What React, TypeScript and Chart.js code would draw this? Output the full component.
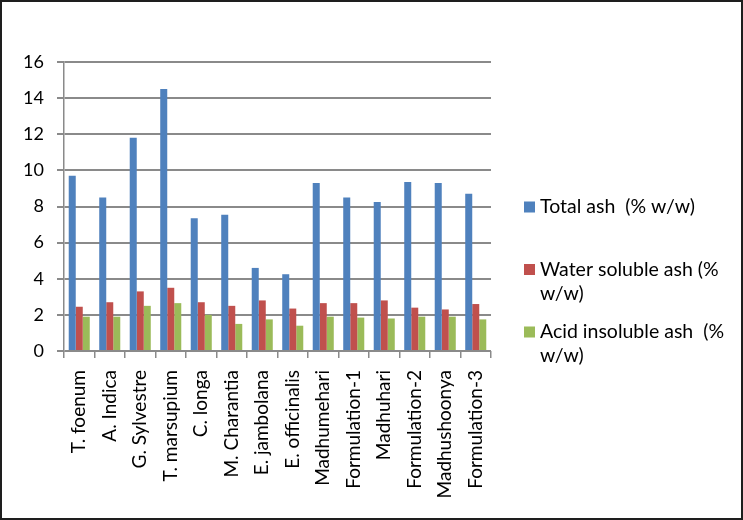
import React, { useEffect, useRef } from "react";
import { Chart, registerables } from "chart.js";

Chart.register(...registerables);

const categories = [
  "T. foenum",
  "A. Indica",
  "G. Sylvestre",
  "T. marsupium",
  "C. longa",
  "M. Charantia",
  "E. jambolana",
  "E. officinalis",
  "Madhumehari",
  "Formulation-1",
  "Madhuhari",
  "Formulation-2",
  "Madhushoonya",
  "Formulation-3",
];

const totalAsh = [9.7, 8.5, 11.8, 14.5, 7.35, 7.55, 4.6, 4.25, 9.3, 8.5, 8.25, 9.35, 9.3, 8.7];
const waterSolubleAsh = [2.45, 2.7, 3.3, 3.5, 2.7, 2.5, 2.8, 2.35, 2.65, 2.65, 2.8, 2.4, 2.3, 2.6];
const acidInsolubleAsh = [1.9, 1.9, 2.5, 2.65, 2.0, 1.5, 1.75, 1.4, 1.9, 1.85, 1.8, 1.9, 1.9, 1.75];

const legendLines = [
  ["Total ash  (% w/w)"],
  ["Water soluble ash (%", "w/w)"],
  ["Acid insoluble ash  (%", "w/w)"],
];

const seriesColors = ["#4F81BD", "#C0504D", "#9BBB59"];

const FONT = "Lato, 'Open Sans', sans-serif";

const framePlugin = {
  id: "framePlugin",
  beforeDraw(chart: any) {
    const ctx = chart.ctx;
    ctx.save();
    ctx.fillStyle = "#ffffff";
    ctx.fillRect(0, 0, chart.width, chart.height);
    ctx.restore();
  },
  afterDraw(chart: any) {
    const ctx = chart.ctx;
    ctx.save();
    ctx.strokeStyle = "#1e1e1e";
    ctx.lineWidth = 2;
    ctx.strokeRect(1, 1, chart.width - 2, chart.height - 2);

    // custom wrapped legend
    const x0 = 524;
    const y0 = 207;
    const step = 62.5;
    const box = 11;
    ctx.font = `19.5px ${FONT}`;
    ctx.textBaseline = "middle";
    ctx.textAlign = "left";
    chart.data.datasets.forEach((ds: any, i: number) => {
      const cy = y0 + i * step;
      ctx.fillStyle = ds.backgroundColor;
      ctx.fillRect(x0, cy - box / 2, box, box);
      ctx.fillStyle = "#000000";
      const lines = legendLines[i];
      lines.forEach((line: string, j: number) => {
        ctx.fillText(line, x0 + box + 5, cy + j * 24);
      });
    });
    ctx.restore();
  },
};

export default function App() {
  const ref = useRef<HTMLCanvasElement | null>(null);

  useEffect(() => {
    if (!ref.current) return;
    const chart = new Chart(ref.current, {
      type: "bar",
      data: {
        labels: categories,
        datasets: [
          { label: legendLines[0].join(" "), data: totalAsh, backgroundColor: seriesColors[0] },
          { label: legendLines[1].join(" "), data: waterSolubleAsh, backgroundColor: seriesColors[1] },
          { label: legendLines[2].join(" "), data: acidInsolubleAsh, backgroundColor: seriesColors[2] },
        ],
      },
      options: {
        responsive: false,
        animation: false,
        layout: { padding: { top: 62, right: 252, bottom: 0, left: 0 } },
        datasets: {
          bar: { categoryPercentage: 0.69, barPercentage: 1.0 },
        },
        plugins: {
          legend: { display: false },
          tooltip: { enabled: false },
        },
        scales: {
          x: {
            grid: {
              display: true,
              drawOnChartArea: false,
              drawTicks: true,
              tickLength: 7,
              color: "#8a8a8a",
              lineWidth: 1.5,
              offset: true,
            },
            border: { display: false },
            ticks: {
              minRotation: 90,
              maxRotation: 90,
              autoSkip: false,
              padding: 12,
              color: "#000000",
              font: { family: FONT, size: 19 },
            },
            afterFit(scale: any) {
              scale.height = 169;
            },
          },
          y: {
            min: 0,
            max: 16,
            ticks: {
              stepSize: 2,
              padding: 13,
              color: "#000000",
              font: { family: FONT, size: 18 },
            },
            grid: {
              color: "#8a8a8a",
              lineWidth: 2,
              tickLength: 7,
            },
            border: { display: true, color: "#8a8a8a", width: 1.5 },
            afterFit(scale: any) {
              scale.width = 64;
            },
          },
        },
      },
      plugins: [framePlugin],
    });
    return () => chart.destroy();
  }, []);

  return (
    <div style={{ position: "absolute", left: 0, top: 0, width: 743, height: 520 }}>
      <canvas ref={ref} width={743} height={520} style={{ width: 743, height: 520, display: "block" }} />
    </div>
  );
}
